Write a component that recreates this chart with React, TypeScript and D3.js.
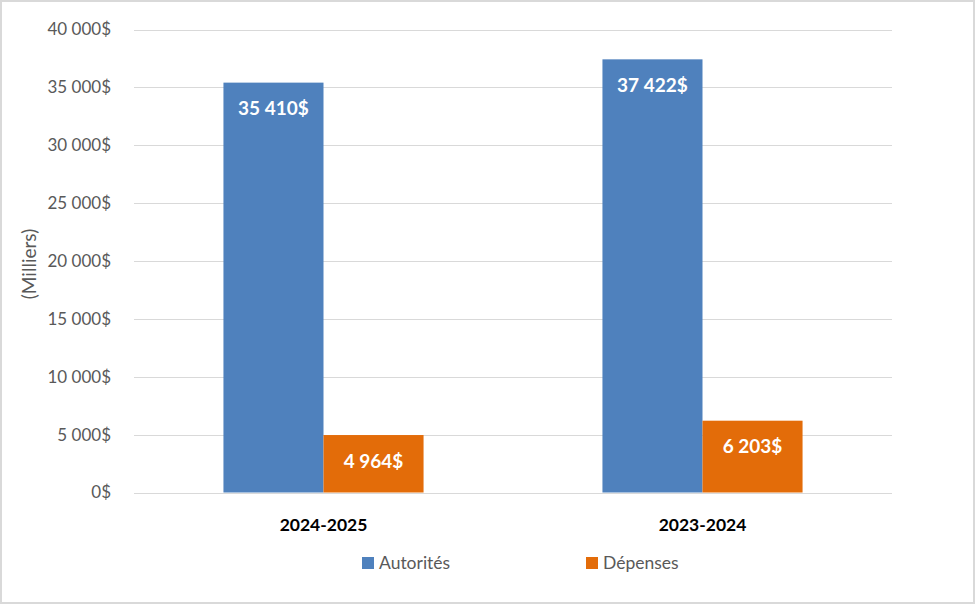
import React from 'react';
import * as d3 from 'd3';

const categories = ['2024-2025', '2023-2024'];
const seriesNames = ['Autorités', 'Dépenses'];
const autorites = [35410, 37422];
const depenses = [4964, 6203];
const yTicks = [0, 5000, 10000, 15000, 20000, 25000, 30000, 35000, 40000];

const colors = ['#4F81BD', '#E36C09'];

const fmt = (v: number) => d3.format(',')(v).replace(/,/g, ' ') + '$';

const App = () => {
  const width = 975;
  const height = 604;
  const margin = { top: 29.5, right: 83, bottom: 111.5, left: 134 };
  const font = 'Lato, "Open Sans", sans-serif';

  const x = d3
    .scaleBand()
    .domain(categories)
    .range([margin.left, width - margin.right])
    .paddingInner(0.472)
    .paddingOuter(0.236);

  const x1 = d3.scaleBand().domain(seriesNames).range([0, x.bandwidth()]);

  const y = d3
    .scaleLinear()
    .domain([0, 40000])
    .range([height - margin.bottom, margin.top]);

  const series = [autorites, depenses];

  return (
    <svg
      width={width}
      height={height}
      style={{ position: 'absolute', left: 0, top: 0, fontFamily: font }}
    >
      <rect x={1} y={1} width={width - 2} height={height - 2} fill="#fff" stroke="#D9D9D9" strokeWidth={2} />

      {yTicks.map((t) => (
        <g key={t}>
          <line
            x1={margin.left}
            x2={width - margin.right}
            y1={Math.round(y(t)) + 0.5}
            y2={Math.round(y(t)) + 0.5}
            stroke="#D9D9D9"
          />
          <text x={111} y={y(t)} dy="0.35em" textAnchor="end" fontSize={17} fill="#595959">
            {fmt(t)}
          </text>
        </g>
      ))}

      <text
        transform={`translate(36, 264) rotate(-90)`}
        textAnchor="middle"
        fontSize={19}
        fill="#595959"
      >
        (Milliers)
      </text>

      {categories.map((c, i) => (
        <g key={c}>
          {series.map((s, j) => {
            const bx = (x(c) || 0) + (x1(seriesNames[j]) || 0);
            const by = y(s[i]);
            return (
              <g key={j}>
                <rect
                  x={bx}
                  y={by}
                  width={x1.bandwidth()}
                  height={y(0) - by}
                  fill={colors[j]}
                />
                <text
                  x={bx + x1.bandwidth() / 2}
                  y={by + 26}
                  dy="0.35em"
                  textAnchor="middle"
                  fontSize={19}
                  fontWeight="bold"
                  fill="#fff"
                >
                  {fmt(s[i])}
                </text>
              </g>
            );
          })}
          <text
            x={(x(c) || 0) + x.bandwidth() / 2}
            y={525}
            dy="0.35em"
            textAnchor="middle"
            fontSize={17.5}
            fontWeight="bold"
            fill="#000"
          >
            {c}
          </text>
        </g>
      ))}

      {seriesNames.map((n, j) => {
        const lx = 362 + j * 224;
        return (
          <g key={n}>
            <rect x={lx} y={557} width={12} height={12} fill={colors[j]} />
            <text x={lx + 17} y={563} dy="0.35em" fontSize={17.5} fill="#595959">
              {n}
            </text>
          </g>
        );
      })}
    </svg>
  );
};

export default App;
